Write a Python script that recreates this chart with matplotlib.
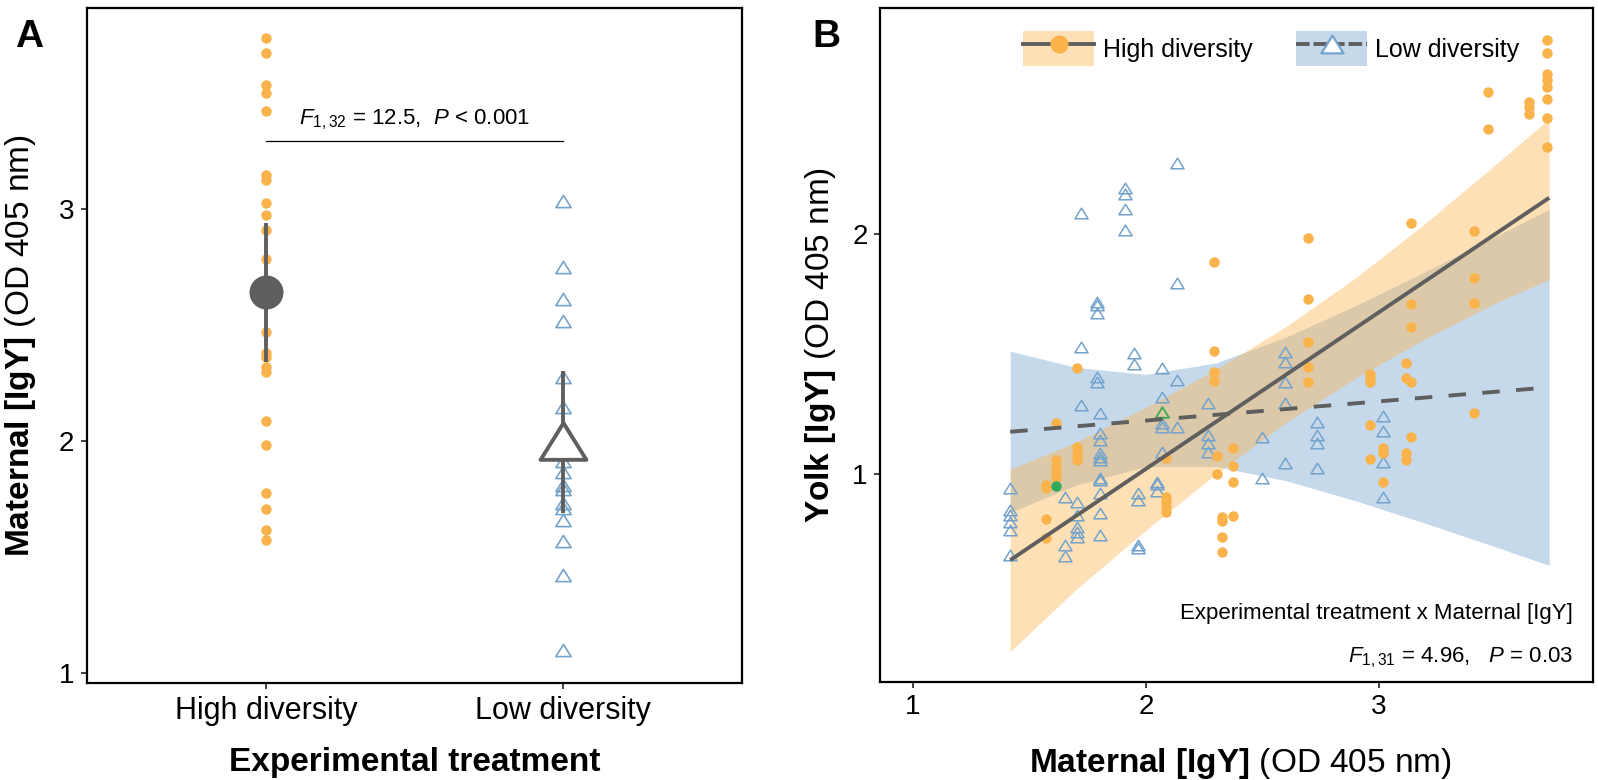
import matplotlib
matplotlib.use("Agg")
import matplotlib.pyplot as plt
from matplotlib.path import Path
from matplotlib.patches import Patch
from matplotlib.lines import Line2D
from matplotlib.legend_handler import HandlerTuple

plt.rcParams['font.family'] = ['Liberation Sans', 'DejaVu Sans']
plt.rcParams['mathtext.fontset'] = 'custom'
plt.rcParams['mathtext.rm'] = 'Liberation Sans'
plt.rcParams['mathtext.it'] = 'Liberation Sans:italic'
plt.rcParams['mathtext.bf'] = 'Liberation Sans:bold'

# ---------------- data: panel A ----------------
categories = ["High diversity", "Low diversity"]
high_maternal = [3.736, 3.672, 3.534, 3.498, 3.423, 3.146, 3.124, 3.026, 2.972, 2.908,
                 2.783, 2.470, 2.378, 2.361, 2.318, 2.296, 2.088, 1.981, 1.775, 1.708,
                 1.618, 1.573]
low_maternal = [3.036, 2.749, 2.614, 2.515, 2.275, 2.146, 2.060, 1.912, 1.867, 1.811,
                1.794, 1.732, 1.712, 1.659, 1.567, 1.423, 1.101]
group_mean = [2.64, 2.00]
group_ci_low = [2.34, 1.69]
group_ci_high = [2.94, 2.30]
stat_text_A = r"$F_{1,32}$ = 12.5,  $P$ < 0.001"

# ---------------- data: panel B ----------------
high_x = ([1.571] * 4 + [1.614] * 5 + [1.705] * 5 + [2.086] * 5 + [2.292] * 4 +
          [2.306] * 2 + [2.326] * 4 + [2.375] * 4 + [2.695] * 5 + [2.961] * 5 +
          [3.016] * 3 + [3.116] * 4 + [3.137] * 5 + [3.409] * 4 + [3.469] * 2 +
          [3.642] * 3 + [3.72] * 8)
high_y = [0.954, 0.940, 0.8125, 0.735,
          1.214, 1.058, 1.030, 1.003, 0.982,
          1.440, 1.114, 1.093, 1.072, 1.058,
          1.065, 0.905, 0.885, 0.864, 0.843,
          1.882, 1.514, 1.426, 1.389,
          1.076, 1.000,
          0.820, 0.805, 0.739, 0.676,
          1.107, 1.033, 0.965, 0.826,
          1.985, 1.728, 1.549, 1.447, 1.382,
          1.415, 1.399, 1.385, 1.204, 1.061,
          1.107, 1.086, 0.968,
          1.461, 1.399, 1.086, 1.058,
          2.047, 1.707, 1.611, 1.385, 1.155,
          2.014, 1.815, 1.714, 1.253,
          2.590, 2.436,
          2.551, 2.528, 2.500,
          2.808, 2.753, 2.669, 2.644, 2.614, 2.5625, 2.483, 2.361]
low_x = ([1.416] * 6 + [1.652] * 3 + [1.703] * 5 + [1.721] * 3 + [1.788] * 5 +
         [1.803] * 11 + [1.910] * 4 + [1.946] * 2 + [1.967] * 4 + [2.046] * 3 +
         [2.070] * 5 + [2.134] * 4 + [2.265] * 4 + [2.499] * 2 + [2.597] * 5 +
         [2.735] * 4 + [3.016] * 4)
low_y = [0.940, 0.850, 0.829, 0.801, 0.767, 0.6625,
         0.905, 0.704, 0.658,
         0.885, 0.829, 0.780, 0.760, 0.736,
         2.087, 1.530, 1.2875,
         1.718, 1.704, 1.670, 1.405, 1.385,
         1.253, 1.170, 1.142, 1.086, 1.072, 1.058, 0.982, 0.975, 0.920, 0.836, 0.746,
         2.191, 2.166, 2.104, 2.017,
         1.503, 1.457,
         0.922, 0.892, 0.704, 0.690,
         0.968, 0.958, 0.930,
         1.440, 1.322, 1.211, 1.197, 1.093,
         2.295, 1.797, 1.392, 1.197,
         1.295, 1.1625, 1.128, 1.093,
         1.155, 0.982,
         1.510, 1.468, 1.385, 1.295, 1.045,
         1.218, 1.1625, 1.128, 1.024,
         1.242, 1.180, 1.051, 0.905]
highlight_high = (1.614, 0.951)
highlight_low = (2.070, 1.260)

fit_x = [1.417, 3.730]
fit_high = [0.641, 2.151]
fit_low = [1.176, 1.361]

band_x = [1.417, 1.7, 2.0, 2.3, 2.6, 2.9, 3.2, 3.5, 3.730]
band_high_lo = [0.260, 0.519, 0.766, 1.000, 1.214, 1.400, 1.564, 1.712, 1.810]
band_high_hi = [1.020, 1.133, 1.278, 1.436, 1.614, 1.818, 2.046, 2.290, 2.480]
band_low_lo = [0.840, 0.954, 1.031, 1.031, 0.972, 0.888, 0.794, 0.696, 0.619]
band_low_hi = [1.512, 1.444, 1.415, 1.463, 1.570, 1.702, 1.844, 1.990, 2.103]

stat_text_B1 = "Experimental treatment x Maternal [IgY]"
stat_text_B2 = r"$F_{1,31}$ = 4.96,   $P$ = 0.03"

# ---------------- styles ----------------
ORANGE = '#FAB24A'
BLUE = '#74A3CC'
GRAY = '#5F5F5F'
FILL_OR = '#FCB34A'
FILL_BL = '#6A9DCB'
GREEN_DOT = '#2EAA5C'
GREEN_TRI = '#3DAA50'
TRI = Path([(-1, -0.8), (1, -0.8), (0, 0.8), (-1, -0.8)], closed=True)
FIT_LW = 2.8
DASH = (0, (4.5, 4.2))

fig = plt.figure(figsize=(15.98, 7.8), dpi=100)
axA = fig.add_axes([87 / 1598, 1 - 683 / 780, (742 - 87) / 1598, (683 - 8) / 780])
axB = fig.add_axes([880 / 1598, 1 - 682 / 780, (1593 - 880) / 1598, (682 - 8) / 780])

for ax in (axA, axB):
    for s in ax.spines.values():
        s.set_linewidth(1.6)
        s.set_color('black')
    ax.tick_params(direction='out', length=4, width=1.3, color='#333333',
                   labelsize=20, pad=5)

# ---------------- panel A ----------------
axA.plot([0] * len(high_maternal), high_maternal, 'o', color=ORANGE, ms=7.5,
         mec='none', zorder=2)
axA.plot([1] * len(low_maternal), low_maternal, ls='none', marker=TRI, ms=11,
         mfc='none', mec=BLUE, mew=1.2, zorder=2)
for i in range(2):
    axA.plot([i, i], [group_ci_low[i], group_ci_high[i]], color=GRAY, lw=2.8,
             solid_capstyle='butt', zorder=3)
axA.plot([0], [group_mean[0]], 'o', color=GRAY, ms=24.5, mec='none', zorder=4)
axA.plot([1], [group_mean[1]], ls='none', marker=TRI, ms=33, mfc='white',
         mec=GRAY, mew=2.8, zorder=4)
axA.plot([0, 1], [3.293, 3.293], color='black', lw=0.9, zorder=2)
axA.text(0.5, 3.366, stat_text_A, ha='center', va='baseline', fontsize=16)

axA.set_xlim(-0.603, 1.603)
axA.set_ylim(0.957, 3.866)
axA.set_xticks([0, 1])
axA.set_xticklabels(categories, fontsize=22)
axA.set_yticks([1, 2, 3])
axA.set_xlabel("Experimental treatment", fontsize=24, fontweight='bold', va='baseline')
axA.xaxis.set_label_coords(0.5, -0.130)
axA.set_ylabel(r"$\mathbf{Maternal\ [IgY]}$ (OD 405 nm)", fontsize=24, va='center')
axA.yaxis.set_label_coords(-0.102, 0.5)

# ---------------- panel B ----------------
axB.fill_between(band_x, band_low_lo, band_low_hi, color=FILL_BL, alpha=0.38,
                 lw=0, zorder=1)
axB.fill_between(band_x, band_high_lo, band_high_hi, color=FILL_OR, alpha=0.40,
                 lw=0, zorder=1)
axB.plot(low_x, low_y, ls='none', marker=TRI, ms=9.5, mfc='none', mec=BLUE,
         mew=1.1, zorder=2)
axB.plot(high_x, high_y, 'o', color=ORANGE, ms=7.5, mec='none', zorder=2)
axB.plot([highlight_high[0]], [highlight_high[1]], 'o', color=GREEN_DOT, ms=7.5,
         mec='none', zorder=3)
axB.plot([highlight_low[0]], [highlight_low[1]], ls='none', marker=TRI, ms=9.5,
         mfc='none', mec=GREEN_TRI, mew=1.3, zorder=3)
axB.plot(fit_x, fit_high, color=GRAY, lw=FIT_LW, zorder=4, solid_capstyle='butt')
axB.plot(fit_x, fit_low, color=GRAY, lw=FIT_LW, ls=DASH, zorder=4)

axB.set_xlim(0.858, 3.918)
axB.set_ylim(0.133, 2.942)
axB.set_xticks([1, 2, 3])
axB.set_yticks([1, 2])
axB.set_xlabel(r"$\mathbf{Maternal\ [IgY]}$ (OD 405 nm)", fontsize=24, va='baseline')
axB.xaxis.set_label_coords(0.506, -0.1335)
axB.set_ylabel(r"$\mathbf{Yolk\ [IgY]}$ (OD 405 nm)", fontsize=24, va='center')
axB.yaxis.set_label_coords(-0.083, 0.5)

axB.text(0.972, 0.0935, stat_text_B1, transform=axB.transAxes, ha='right',
         va='baseline', fontsize=16)
axB.text(0.972, 0.0297, stat_text_B2, transform=axB.transAxes, ha='right',
         va='baseline', fontsize=16)

h_high = (Patch(facecolor=FILL_OR, alpha=0.40, lw=0),
          Line2D([], [], color=GRAY, lw=FIT_LW, marker='o', ms=12, mfc=ORANGE, mec=ORANGE))
h_low = (Patch(facecolor=FILL_BL, alpha=0.38, lw=0),
         Line2D([], [], color=GRAY, lw=FIT_LW, ls=(0, (3.5, 1.0)), marker=TRI, ms=16,
                mfc='white', mec=BLUE, mew=1.6))
axB.legend([h_high, h_low], categories,
           handler_map={tuple: HandlerTuple(ndivide=1, pad=0)},
           loc='center left', bbox_to_anchor=(0.2006, 0.94), ncol=2, frameon=False,
           fontsize=18, handlelength=2.85, handleheight=1.8, handletextpad=0.33,
           columnspacing=1.75, borderpad=0, borderaxespad=0)

fig.text(29 / 1598, 1 - 47 / 780, "A", fontsize=28, fontweight='bold', ha='center',
         va='baseline')
fig.text(826 / 1598, 1 - 47 / 780, "B", fontsize=28, fontweight='bold', ha='center',
         va='baseline')

fig.savefig("out.png", dpi=100)
